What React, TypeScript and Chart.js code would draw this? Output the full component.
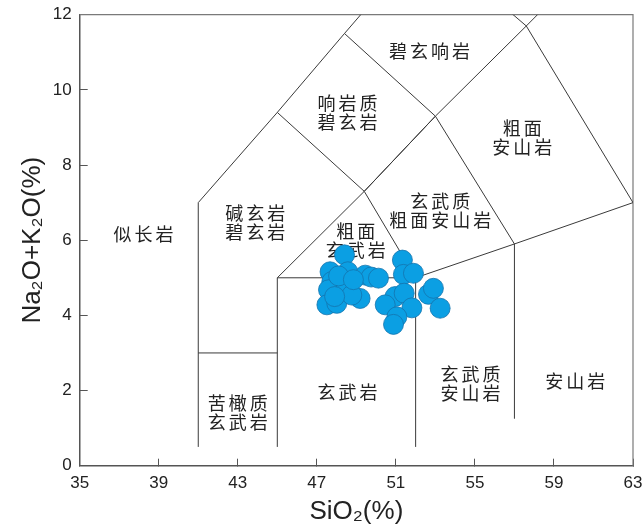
import React, { useEffect, useRef } from 'react';
import { Chart, registerables } from 'chart.js';

Chart.register(...registerables);

// Sample compositions (wt%)
const sio2 = [
  48.40, 47.67, 48.57, 49.45, 49.75, 50.12, 47.76, 47.59, 48.48, 49.19, 47.51, 48.01,
  48.77, 48.10, 48.85, 47.90,
  51.33, 51.38, 51.89, 50.96, 51.42, 50.46, 51.81, 52.65, 52.90, 53.24, 51.05, 50.88,
];
const alkali = [
  5.61, 5.16, 5.16, 5.07, 5.02, 4.99, 4.90, 4.68, 4.72, 4.45, 4.28, 4.32,
  4.54, 5.05, 4.95, 4.50,
  5.47, 5.09, 5.12, 4.50, 4.59, 4.28, 4.20, 4.56, 4.72, 4.19, 3.96, 3.76,
];

const xTicks = [35, 39, 43, 47, 51, 55, 59, 63];
const yTicks = [0, 2, 4, 6, 8, 10, 12];

// TAS field boundaries (SiO2, Na2O+K2O)
const boundaryA: number[][] = [[41, 0.5], [41, 7], [45, 9.4], [48.4, 11.5], [52.5, 14]];
const boundaryB: number[][] = [[41, 3], [45, 3]];
const boundaryC: number[][] = [[45, 0.5], [45, 5], [52, 5], [57, 5.9], [63, 7]];
const boundaryD: number[][] = [[52, 0.5], [52, 5]];
const boundaryE: number[][] = [[57, 1.25], [57, 5.9]];
const boundaryF: number[][] = [[45, 5], [49.4, 7.3], [52, 5]];
const boundaryG: number[][] = [[45, 9.4], [49.4, 7.3], [53, 9.3], [57, 5.9]];
const boundaryH: number[][] = [[48.4, 11.5], [53, 9.3], [57.6, 11.7], [63, 7]];
const boundaryI: number[][] = [[49.4, 7.3], [53, 9.3]];
const boundaryJ: number[][] = [[57.6, 11.7], [61, 13.5]];
const boundaryK: number[][] = [[57.6, 11.7], [52.5, 14]];
const boundaries = [
  boundaryA, boundaryB, boundaryC, boundaryD, boundaryE, boundaryF,
  boundaryG, boundaryH, boundaryI, boundaryJ, boundaryK,
];

// Rock field names and their centres
const regionNames = [
  '碧玄响岩', '响岩质\n碧玄岩', '粗面\n安山岩', '玄武质\n粗面安山岩', '碱玄岩\n碧玄岩',
  '似长岩', '粗面\n玄武岩', '苦橄质\n玄武岩', '玄武岩', '玄武质\n安山岩', '安山岩',
];
const regionX = [52.7, 48.55, 57.4, 53.25, 43.88, 38.23, 48.97, 43.0, 48.55, 54.78, 60.08];
const regionY = [11.03, 9.4, 8.72, 6.79, 6.48, 6.16, 5.98, 1.42, 1.97, 2.17, 2.25];

const xTitle = 'SiO₂(%)';
const yTitle = 'Na₂O+K₂O(%)';

const latinFont = '"Liberation Sans", Arial, Helvetica, sans-serif';
const cjkFont = '"Noto Sans CJK SC", "Noto Sans", sans-serif';

const frameAndLabels = {
  id: 'frameAndLabels',
  beforeDatasetsDraw(chart: any) {
    const { ctx, chartArea, scales } = chart;
    const { x, y } = scales;
    ctx.save();
    // top and right frame
    ctx.strokeStyle = '#7a7a7a';
    ctx.lineWidth = 1.2;
    ctx.beginPath();
    ctx.moveTo(chartArea.left, chartArea.top);
    ctx.lineTo(chartArea.right, chartArea.top);
    ctx.lineTo(chartArea.right, chartArea.bottom);
    ctx.stroke();

    // field names
    ctx.font = `18px ${cjkFont}`;
    ctx.fillStyle = '#222';
    ctx.textAlign = 'center';
    ctx.textBaseline = 'middle';
    (ctx as any).letterSpacing = '3px';
    regionNames.forEach((name, i) => {
      const lines = name.split('\n');
      const cx = x.getPixelForValue(regionX[i]) + 1.5;
      const cy = y.getPixelForValue(regionY[i]);
      lines.forEach((ln, j) => {
        ctx.fillText(ln, cx, cy + (j - (lines.length - 1) / 2) * 19);
      });
    });
    ctx.restore();
  },
  afterDraw(chart: any) {
    const { ctx, chartArea } = chart;
    ctx.save();
    ctx.fillStyle = '#222';
    ctx.font = `26px ${latinFont}`;
    ctx.textAlign = 'center';
    ctx.textBaseline = 'middle';
    ctx.fillText(xTitle, (chartArea.left + chartArea.right) / 2, chartArea.bottom + 46);
    ctx.translate(33, (chartArea.top + chartArea.bottom) / 2);
    ctx.rotate(-Math.PI / 2);
    ctx.fillText(yTitle, 0, 0);
    ctx.restore();
  },
};

export default function App() {
  const canvasRef = useRef<HTMLCanvasElement | null>(null);

  useEffect(() => {
    if (!canvasRef.current) return;
    const pointData = sio2.map((v, i) => ({ x: v, y: alkali[i] }));
    const lineSets = boundaries.map((b) => ({
      data: b.map((p) => ({ x: p[0], y: p[1] })),
      showLine: true,
      pointRadius: 0,
      borderColor: '#3a3a3a',
      borderWidth: 1,
      fill: false,
      order: 2,
    }));
    const chart = new Chart(canvasRef.current, {
      type: 'scatter',
      data: {
        datasets: [
          {
            data: pointData,
            pointRadius: 10,
            pointHoverRadius: 10,
            backgroundColor: '#0b9fe3',
            borderColor: '#1473ad',
            borderWidth: 0.8,
            order: 0,
          },
          ...lineSets,
        ] as any,
      },
      options: {
        animation: false,
        responsive: false,
        devicePixelRatio: 1,
        layout: { padding: { top: 14.7, right: 11, left: 0, bottom: 0 } },
        plugins: { legend: { display: false }, tooltip: { enabled: false } },
        scales: {
          x: {
            type: 'linear',
            min: 35,
            max: 63,
            afterBuildTicks: (s: any) => {
              s.ticks = xTicks.map((v) => ({ value: v }));
            },
            afterFit: (s: any) => {
              s.height = 61.3;
              s.paddingLeft = 0;
              s.paddingRight = 0;
            },
            ticks: { font: { family: latinFont, size: 17 }, color: '#222', padding: 14 },
            grid: { drawOnChartArea: false, drawTicks: true, tickLength: -7, color: '#555', lineWidth: 1 },
            border: { display: true, color: '#555', width: 1.5 },
          },
          y: {
            type: 'linear',
            min: 0,
            max: 12,
            afterBuildTicks: (s: any) => {
              s.ticks = yTicks.map((v) => ({ value: v }));
            },
            afterFit: (s: any) => {
              s.width = 79.7;
              s.paddingTop = 0;
              s.paddingBottom = 0;
            },
            ticks: { font: { family: latinFont, size: 17 }, color: '#222', padding: 16 },
            grid: { drawOnChartArea: false, drawTicks: true, tickLength: -8, color: '#555', lineWidth: 1 },
            border: { display: true, color: '#555', width: 1.5 },
          },
        },
      },
      plugins: [frameAndLabels],
    });
    return () => chart.destroy();
  }, []);

  return (
    <div style={{ position: 'fixed', left: 0, top: 0, width: 644, height: 527, background: '#fff' }}>
      <canvas ref={canvasRef} width={644} height={527} style={{ display: 'block' }} />
    </div>
  );
}
